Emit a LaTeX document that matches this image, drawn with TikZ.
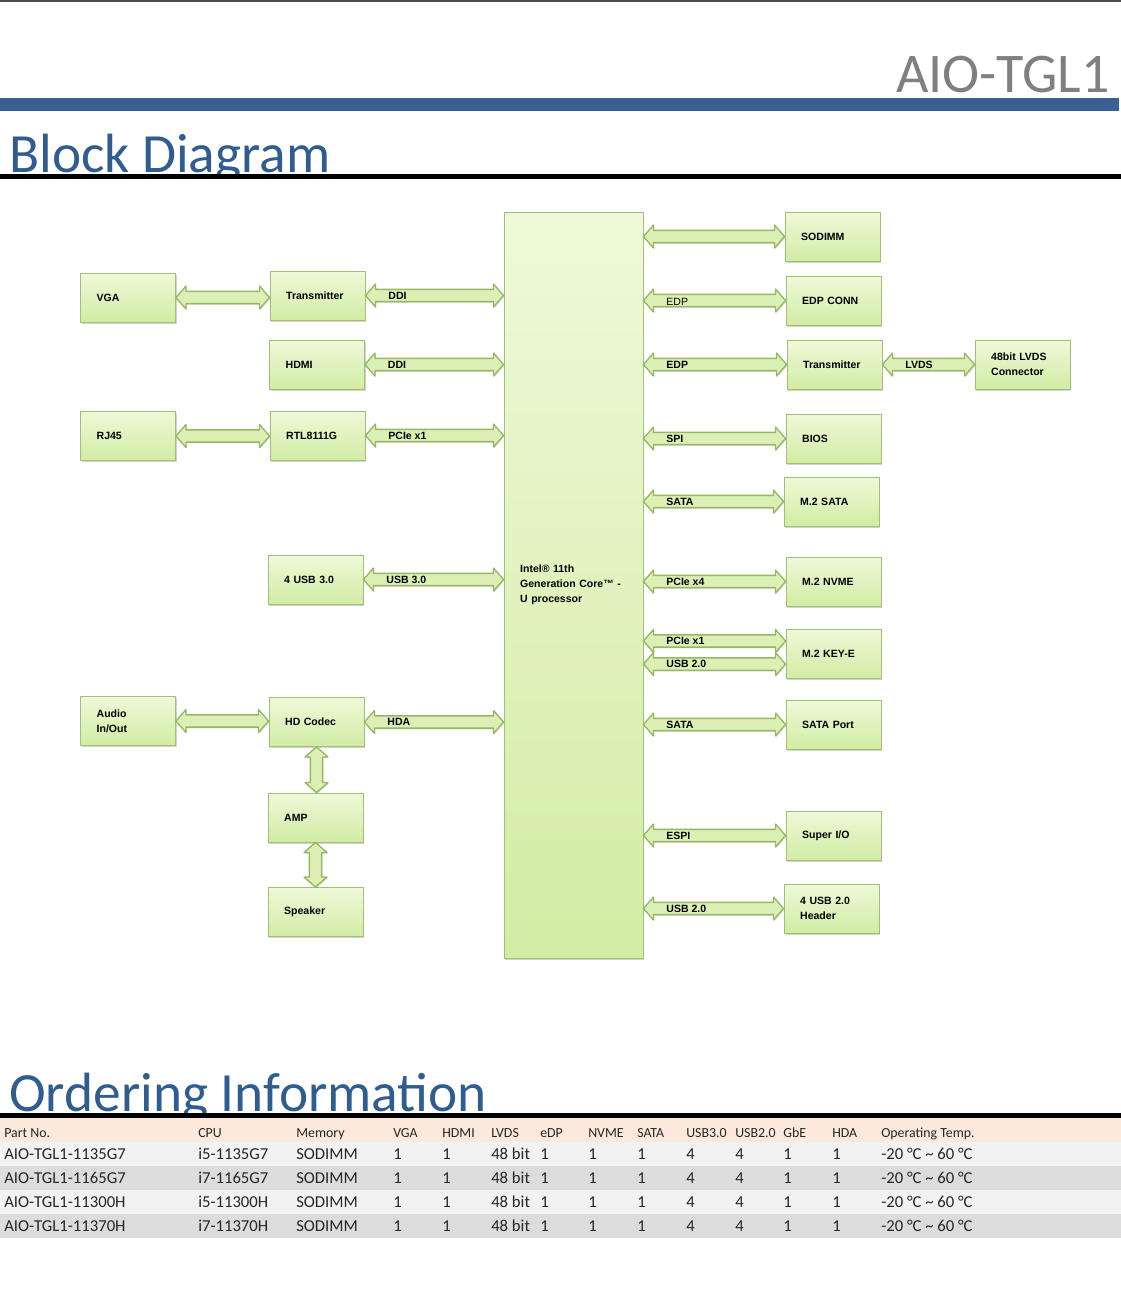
\documentclass[tikz,border=0pt]{standalone}
\usepackage{fontspec}
\setmainfont{Liberation Sans}
\newfontfamily\headfont{Carlito}
\usetikzlibrary{calc,shadows}

\definecolor{barblue}{HTML}{3A6092}
\definecolor{titleblue}{HTML}{2F5D8F}
\definecolor{boxline}{HTML}{A0C073}
\definecolor{boxtop}{HTML}{EEF9D9}
\definecolor{boxbot}{HTML}{D2ECA4}
\definecolor{busline}{HTML}{95B862}
\definecolor{busfill}{HTML}{DCF0B6}
\definecolor{peach}{HTML}{FCE9DB}
\definecolor{rowlight}{HTML}{F2F2F2}
\definecolor{rowdark}{HTML}{DCDCDC}
\definecolor{tabtext}{HTML}{262626}

\def\bh{7.5pt}% head length
\def\bH{8.6pt}% half head width
\def\bw{4.6pt}% half shaft width

\tikzset{
  block/.style={draw=boxline, line width=0.7pt, top color=boxtop, bottom color=boxbot,
    drop shadow={shadow xshift=1pt, shadow yshift=-1.2pt, opacity=0.35},
    minimum width=71.25pt, minimum height=36.75pt, text width=47pt, inner xsep=12.1pt,
    align=left, font=\bfseries\fontsize{7.9}{11.25}\selectfont},
  link/.style={draw=busline, fill=busfill, line width=1pt, line join=round,
    drop shadow={shadow xshift=0.6pt, shadow yshift=-1pt, opacity=0.25}},
  hlink/.style={link, to path={let \p1=(\tikztostart), \p2=(\tikztotarget) in
    -- (\x1+\bh,\y1+\bH) -- (\x1+\bh,\y1+\bw) -- (\x2-\bh,\y1+\bw) -- (\x2-\bh,\y1+\bH)
    -- (\x2,\y1) -- (\x2-\bh,\y1-\bH) -- (\x2-\bh,\y1-\bw) -- (\x1+\bh,\y1-\bw)
    -- (\x1+\bh,\y1-\bH) -- cycle}},
  vlink/.style={link, to path={let \p1=(\tikztostart), \p2=(\tikztotarget) in
    -- (\x1+\bH,\y1-\bh) -- (\x1+\bw,\y1-\bh) -- (\x1+\bw,\y2+\bh) -- (\x1+\bH,\y2+\bh)
    -- (\x1,\y2) -- (\x1-\bH,\y2+\bh) -- (\x1-\bw,\y2+\bh) -- (\x1-\bw,\y1-\bh)
    -- (\x1-\bH,\y1-\bh) -- cycle}},
  linklabel/.style={anchor=west, inner sep=0pt, xshift=17pt,
    font=\bfseries\fontsize{7.9}{9.5}\selectfont},
  th/.style={anchor=base west, inner sep=0pt, text=tabtext, font=\headfont\fontsize{10.4}{12}\selectfont},
  td/.style={anchor=base west, inner sep=0pt, text=tabtext, font=\headfont\fontsize{12.5}{14}\selectfont}
}

\begin{document}
\begin{tikzpicture}[x=0.75pt, y=-0.75pt]
    \useasboundingbox (0,0) rectangle (1121,1289);
    %% page head
    \draw[gray!60!black, line width=1pt] (0,1) -- (1121,1);
    \node[anchor=base east, inner sep=0pt, text=gray, font=\headfont\fontsize{42}{42}\selectfont]
        (model) at (1110,92) {AIO-TGL1};
    \fill[barblue] (0,98) rectangle (1119,111);
    \begin{scope}
        \clip (0,115) rectangle (1121,175);
        \node[anchor=base west, inner sep=0pt, text=titleblue, font=\headfont\fontsize{41.5}{42}\selectfont]
            (bdtitle) at (9,172) {Block Diagram};
    \end{scope}
    \fill[black] (0,174) rectangle (1121,178.5);

    %% processor
    \node[block, minimum width=104.25pt, minimum height=559.5pt, text width=80pt]
        (cpu) at (573.5,585) {Intel® 11th\\Generation Core™ -\\U processor};
    %% left side
    \foreach \b/\x/\y/\t in {vga/128/297.5/VGA, txl/317.5/295.5/Transmitter, hdmi/317/364.5/HDMI,
        rj/128/436/RJ45, rtl/317.5/435.5/RTL8111G, usbt/315.5/579.5/4 USB 3.0,
        audio/128/721/{Audio\\In/Out}, codec/316.5/722/HD Codec, amp/315.5/817.5/AMP,
        spk/315.5/912/Speaker}
        \node[block] (\b) at (\x,\y) {\t};
    %% right side
    \foreach \b/\x/\y/\t in {sodimm/832.5/236.5/SODIMM, edpc/833.5/300.5/EDP CONN,
        txr/834.5/364.5/Transmitter, lvds/1022.5/364.5/{48bit LVDS\\Connector},
        bios/833.5/438.5/BIOS, msata/831.5/501.5/M.2 SATA, nvme/833.5/581.5/M.2 NVME,
        keye/833.5/653.5/M.2 KEY-E, sport/833.5/724.5/SATA Port, sio/833.5/835.5/{Super I/O},
        usbh/831.5/908.5/{4 USB 2.0\\Header}}
        \node[block] (\b) at (\x,\y) {\t};

    %% buses, left
    \draw[hlink] (vga.east) to (txl.west);
    \draw[hlink] (rj.east) to (rtl.west);
    \draw[hlink] (audio.east) to (codec.west);
    \foreach \b in {txl,hdmi,rtl,usbt,codec}
        \draw[hlink] (\b.east) to (\b.east -| cpu.west);
    \draw[vlink] (codec.south) to (amp.north);
    \draw[vlink] (amp.south) to (spk.north);
    \foreach \b/\t in {txl/DDI, hdmi/DDI, rtl/PCIe x1, usbt/USB 3.0, codec/HDA}
        \node[linklabel] (l\b) at (\b.east) {\t};

    %% buses, right
    \foreach \b in {sodimm,edpc,txr,bios,msata,nvme,sport,sio,usbh}
        \draw[hlink] (cpu.east |- \b.west) to (\b.west);
    \coordinate (keyp) at ([yshift=9.4pt]keye.west);
    \coordinate (keyu) at ([yshift=-7.9pt]keye.west);
    \draw[hlink] (cpu.east |- keyp) to (keyp);
    \draw[hlink] (cpu.east |- keyu) to (keyu);
    \draw[hlink] (txr.east) to (lvds.west);
    \node[linklabel, font=\fontsize{7.9}{9.5}\selectfont, yshift=-1pt] (ledpc) at (cpu.east |- edpc.west) {EDP};
    \foreach \b/\t in {txr/EDP, bios/SPI, msata/SATA, nvme/PCIe x4, sport/SATA, sio/ESPI, usbh/USB 2.0}
        \node[linklabel] (l\b) at (cpu.east |- \b.west) {\t};
    \node[linklabel] (lkeyp) at (cpu.east |- keyp) {PCIe x1};
    \node[linklabel] (lkeyu) at (cpu.east |- keyu) {USB 2.0};
    \node[linklabel] (llvds) at (txr.east) {LVDS};

    %% ordering information
    \begin{scope}
        \clip (0,1040) rectangle (1121,1114);
        \node[anchor=base west, inner sep=0pt, text=titleblue, font=\headfont\fontsize{41.5}{42}\selectfont]
            (oititle) at (9,1111) {Ordering Information};
    \end{scope}
    \fill[black] (0,1113) rectangle (1121,1118);
    \fill[peach] (0,1118) rectangle (1121,1142);
    \foreach \y/\c in {1142/rowlight,1166/rowdark,1190/rowlight,1214/rowdark}
        \fill[\c] (0,\y) rectangle (1121,\y+24);
    \foreach \x/\t in {4/Part No., 198/CPU, 296/Memory, 393/VGA, 442/HDMI, 491/LVDS, 540/eDP,
        588/NVME, 637/SATA, 686/USB3.0, 735/USB2.0, 783/GbE, 832/HDA, 881/Operating Temp.}
        \node[th] (h\x) at (\x,1137) {\t};
    \foreach \y/\p/\c in {1159/AIO-TGL1-1135G7/i5-1135G7, 1183/AIO-TGL1-1165G7/i7-1165G7,
        1207/AIO-TGL1-11300H/i5-11300H, 1231/AIO-TGL1-11370H/i7-11370H} {
        \node[td] (p\y) at (4,\y) {\p};
        \node[td] (c\y) at (198,\y) {\c};
        \foreach \x/\t in {296/SODIMM, 393/1, 442/1, 491/48 bit, 540/1, 588/1, 637/1, 686/4,
            735/4, 783/1, 832/1, 881/{-20 °C \textasciitilde{} 60 °C}}
            \node[td] (v\y-\x) at (\x,\y) {\t};
    }
\end{tikzpicture}
\end{document}
